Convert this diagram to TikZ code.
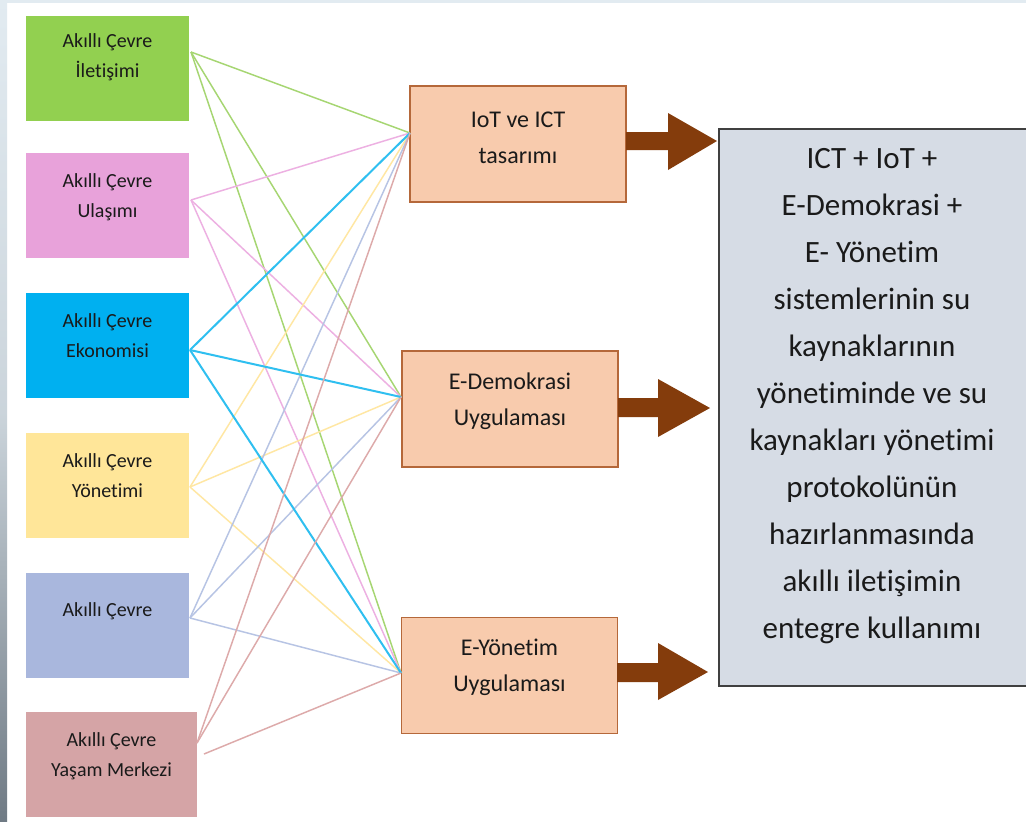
\documentclass[tikz,border=0pt]{standalone}
\usepackage{fontspec}
\setmainfont{Carlito}[Ligatures=NoCommon]
\usetikzlibrary{calc}

\definecolor{cGreen}{HTML}{92D050}
\definecolor{cPink}{HTML}{E8A2DA}
\definecolor{cBlue}{HTML}{00B0F0}
\definecolor{cYellow}{HTML}{FFE699}
\definecolor{cSlate}{HTML}{A9B7DD}
\definecolor{cRose}{HTML}{D5A4A6}
\definecolor{lGreen}{HTML}{A6D672}
\definecolor{lPink}{HTML}{EDB0E2}
\definecolor{lBlue}{HTML}{2FBFF0}
\definecolor{lYellow}{HTML}{FFE7A3}
\definecolor{lSlate}{HTML}{B7C4E4}
\definecolor{lRose}{HTML}{DDAAAA}
\definecolor{peach}{HTML}{F8CBAD}
\definecolor{peachEdge}{HTML}{B5683A}
\definecolor{arrowBrown}{HTML}{843C0C}
\definecolor{sumFill}{HTML}{D6DCE5}
\definecolor{sumEdge}{HTML}{404040}
\definecolor{txt}{HTML}{1A1A1A}
\definecolor{edgeTop}{HTML}{E2EBF1}
\definecolor{edgeBottom}{HTML}{6F7A84}

\begin{document}
\begin{tikzpicture}[x=0.75pt,y=-0.75pt,
  srcbox/.style={rectangle, inner sep=0pt, minimum width=122.25pt, minimum height=78.75pt},
  srclabel/.style={align=center, text=txt, font=\fontsize{15}{22.5}\selectfont},
  midbox/.style={rectangle, inner sep=0pt, fill=peach, draw=peachEdge, line width=1.1pt,
                 minimum width=162pt, minimum height=87pt},
  midlabel/.style={align=center, text=txt, font=\fontsize{18}{27}\selectfont},
  sumbox/.style={rectangle, inner sep=0pt, fill=sumFill, draw=sumEdge, line width=1.4pt,
                 minimum width=240pt, minimum height=417.75pt},
  sumlabel/.style={align=center, text=txt, font=\fontsize{23.25}{35.25}\selectfont},
  link/.style={line width=1.1pt},
  bigarrow/.style={fill=arrowBrown, draw=none}]

\clip (0,0) rectangle (1026,822);
\fill[white] (0,0) rectangle (1026,822);
% slide backdrop showing at the edges
\shade[top color=edgeTop, bottom color=edgeBottom, middle color=edgeTop!80!edgeBottom] (0,0) rectangle (7,822);
\fill[edgeTop] (0,0) rectangle (1026,3);

% source boxes
\node[srcbox, fill=cGreen]  (green)  at (107.5,68)  {};
\node[srcbox, fill=cPink]   (pink)   at (107.5,205.5) {};
\node[srcbox, fill=cBlue]   (blue)   at (107.5,345) {};
\node[srcbox, fill=cYellow] (yellow) at (107.5,485.5) {};
\node[srcbox, fill=cSlate]  (slate)  at (107.5,625) {};
\node[srcbox, fill=cRose, minimum width=128.25pt] (rose) at (111.5,764.5) {};

\node[srclabel] (green-t)  at ([yshift=8pt]green.center)  {Akıllı Çevre\\İletişimi};
\node[srclabel] (pink-t)   at ([yshift=6pt]pink.center)   {Akıllı Çevre\\Ulaşımı};
\node[srclabel] (blue-t)   at ([yshift=7pt]blue.center)   {Akıllı Çevre\\Ekonomisi};
\node[srclabel] (yellow-t) at ([yshift=7.5pt]yellow.center) {Akıllı Çevre\\Yönetimi};
\node[srclabel] (slate-t)  at ([yshift=10pt]slate.center) {Akıllı Çevre};
\node[srclabel] (rose-t)   at ([yshift=6pt]rose.center)   {Akıllı Çevre\\Yaşam Merkezi};

% middle boxes
\node[midbox] (iot) at (518,144)   {};
\node[midbox] (dem) at (510,409)   {};
\node[midbox] (yon) at (509.5,675.5) {};
\node[midlabel] (iot-t) at ([yshift=5pt]iot.center) {IoT ve ICT\\tasarımı};
\node[midlabel] (dem-t) at ([yshift=6pt]dem.center) {E-Demokrasi\\Uygulaması};
\node[midlabel] (yon-t) at ([yshift=6pt]yon.center) {E-Yönetim\\Uygulaması};

% summary box (runs past the right edge)
\node[sumbox] (sum) at (879,407.5) {};
\node[sumlabel] (sum-t) at (872,396.5) {ICT + IoT +\\E-Demokrasi +\\E- Yönetim\\sistemlerinin su\\kaynaklarının\\yönetiminde ve su\\kaynakları yönetimi\\protokolünün\\hazırlanmasında\\akıllı iletişimin\\entegre kullanımı};

% connector ports
\coordinate (green-o)  at (191,52);
\coordinate (pink-o)   at (191,200);
\coordinate (blue-o)   at (190,350);
\coordinate (yellow-o) at (190,487);
\coordinate (slate-o)  at (190,618);
\coordinate (rose-o)   at (197,743);
\coordinate (rose-o2)  at (204,754);
\coordinate (iot-i) at (410,133);
\coordinate (dem-i) at (401,397);
\coordinate (yon-i) at (401,673);

% many-to-many links
\foreach \s/\c in {green/lGreen, pink/lPink, yellow/lYellow, slate/lSlate}{
  \draw[link, \c] (\s-o) -- (iot-i);
  \draw[link, \c] (\s-o) -- (dem-i);
  \draw[link, \c] (\s-o) -- (yon-i);
}
\draw[link, lBlue, line width=1.5pt] (blue-o) -- (iot-i);
\draw[link, lBlue, line width=1.5pt] (blue-o) -- (dem-i);
\draw[link, lBlue, line width=1.5pt] (blue-o) -- (yon-i);
\draw[link, lRose] (rose-o) -- (iot-i);
\draw[link, lRose] (rose-o) -- (dem-i);
\draw[link, lRose] (rose-o2) -- (yon-i);

% block arrows into the summary box
\fill[bigarrow] (626,132) -- (668,132) -- (668,113) -- (717,141) -- (668,170) -- (668,150) -- (626,150) -- cycle;
\fill[bigarrow] (618,398) -- (658,398) -- (658,379) -- (710,408) -- (658,437) -- (658,417) -- (618,417) -- cycle;
\fill[bigarrow] (617,663) -- (658,663) -- (658,643) -- (708,672) -- (658,700) -- (658,682) -- (617,682) -- cycle;

\end{tikzpicture}
\end{document}
